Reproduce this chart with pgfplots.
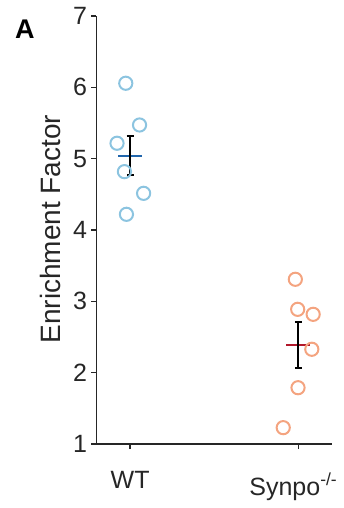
\documentclass[border=0pt]{standalone}
\usepackage{pgfplots}
\pgfplotsset{compat=1.18}
\usepackage{fontspec}
\setmainfont{Liberation Sans}
\definecolor{lblue}{RGB}{140,196,224}
\definecolor{lsalmon}{RGB}{244,164,128}
\definecolor{dblue}{RGB}{33,102,172}
\definecolor{dred}{RGB}{178,24,43}
\definecolor{axgray}{RGB}{38,38,38}
\begin{document}
\begin{tikzpicture}
\useasboundingbox (0,0) rectangle (344pt,508pt);
\begin{axis}[
  at={(96.5pt,64pt)}, anchor=south west,
  scale only axis, width=235.5pt, height=428pt,
  xmin=0.8, xmax=2.2, ymin=1, ymax=7,
  axis x line*=bottom, axis y line*=left,
  axis line style={axgray, line width=1.4pt},
  every tick/.style={axgray, line width=1.4pt},
  tick align=outside, major tick length=5pt,
  xtick={1,2}, xticklabels={WT,{\raisebox{-7pt}{\hspace*{-10pt}Synpo\textsuperscript{-/-}}}},
  ytick={1,2,3,4,5,6,7},
  /pgf/number format/assume math mode=true,
  tick label style={font=\fontsize{25}{28}\selectfont, text=axgray},
  yticklabel style={xshift=-1pt},
  xticklabel style={anchor=base, yshift=-39pt},
  clip=false,
]
% WT points
\addplot[only marks, mark=o, mark size=6.6pt, lblue, line width=2pt] coordinates {
(0.974,6.057) (1.056,5.472) (0.922,5.216) (0.966,4.818) (1.080,4.514) (0.978,4.220)};
% Synpo points
\addplot[only marks, mark=o, mark size=6.6pt, lsalmon, line width=2pt] coordinates {
(1.982,3.309) (1.996,2.888) (2.088,2.818) (2.080,2.328) (1.998,1.789) (1.910,1.229)};
% means
\addplot[dblue, line width=2pt] coordinates {(0.928,5.044) (1.072,5.044)};
\addplot[dred, line width=2pt] coordinates {(1.928,2.39) (2.072,2.39)};
% error bars
\addplot[draw=none, mark=none, error bars/.cd, y dir=both, y explicit,
  error bar style={black, line width=2pt}, error mark options={black, line width=2pt, mark size=3.4pt, rotate=90}]
  coordinates {(1,5.044) +- (0,0.274) (2,2.39) +- (0,0.318)};
\node[rotate=90, anchor=base, font=\fontsize{28}{32}\selectfont, text=axgray] at (rel axis cs:-0.151,0.502) {Enrichment Factor};
\node[font=\fontsize{27}{30}\selectfont\bfseries] at (rel axis cs:-0.304,0.970) {A};
\end{axis}
\end{tikzpicture}
\end{document}
